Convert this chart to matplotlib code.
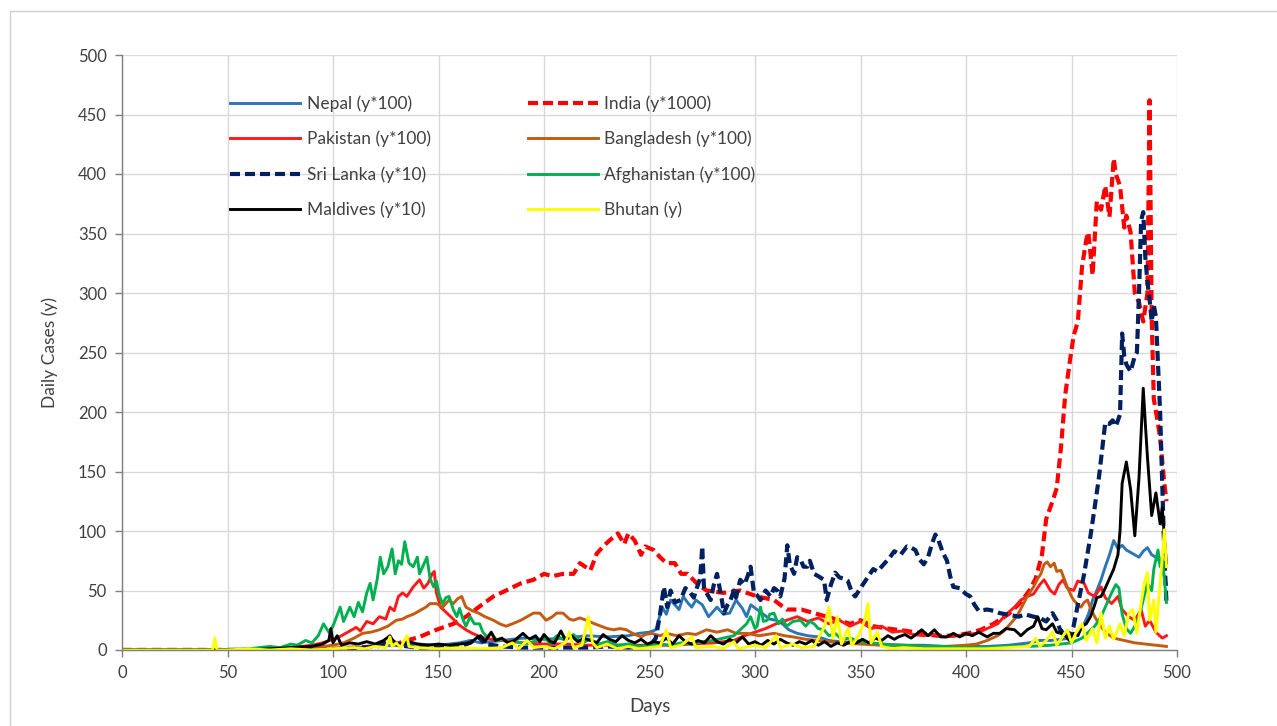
import matplotlib
matplotlib.use("Agg")
import matplotlib.pyplot as plt
from matplotlib.patches import Rectangle

# ---------------- data ----------------
nepal_days = [0, 20, 40, 60, 80, 100, 110, 120, 130, 140, 150, 160, 165, 170, 175, 180, 190, 200, 210, 220,
              230, 240, 245, 250, 253, 256, 258, 260, 262, 264, 266, 268, 270, 272, 275, 278, 280, 282, 285, 288,
              291, 294, 296, 298, 301, 304, 307, 310, 313, 316, 320, 325, 330, 335, 340, 350, 360, 370, 380, 390,
              400, 410, 420, 430, 435, 440, 445, 450, 453, 456, 458, 460, 462, 464, 466, 468, 470, 472, 474, 476,
              478, 480, 482, 484, 486, 488, 490, 492, 494, 495]
nepal = [0, 0, 0, 0, 0, 1, 2, 3, 4, 5, 4, 6, 8, 6, 7, 8, 10, 9, 10, 12,
         11, 12, 14, 15, 17, 36, 30, 42, 38, 34, 45, 40, 36, 42, 38, 28, 32, 36, 30, 31,
         42, 35, 28, 38, 34, 30, 26, 25, 22, 17, 14, 12, 11, 8, 7, 6, 5, 4, 4, 3,
         3, 3, 4, 6, 8, 8, 9, 10, 15, 22, 30, 42, 50, 59, 70, 80, 92, 85, 88, 84,
         82, 80, 78, 83, 86, 80, 78, 74, 62, 55]

india_days = [0, 50, 80, 100, 110, 120, 130, 135, 141, 149, 157, 163, 169, 176, 182, 189, 195, 200, 204, 209,
              214, 217, 222, 225, 228, 231, 235, 238, 240, 243, 246, 248, 252, 255, 258, 262, 265, 268, 273, 277,
              285, 293, 301, 309, 315, 322, 328, 334, 340, 345, 350, 356, 363, 372, 379, 386, 394, 401, 407, 413,
              420, 426, 430, 433, 436, 438, 441, 443, 445, 447, 449, 451, 453, 455, 457, 458, 460, 462, 464, 466,
              468, 470, 471, 473, 475, 476, 478, 480, 482, 484, 486, 487, 488, 489, 491, 492, 494, 495]
india = [0, 0, 0, 1, 2, 3, 5, 8, 11, 17, 22, 28, 36, 45, 50, 56, 59, 64, 62, 64,
         64, 73, 67, 81, 87, 92, 98, 89, 98, 92, 80, 87, 84, 78, 73, 73, 64, 64, 55, 50,
         48, 50, 45, 42, 34, 34, 31, 28, 25, 22, 25, 20, 18, 16, 14, 12, 12, 14, 17, 22,
         30, 40, 50, 60, 80, 110, 125, 136, 170, 214, 240, 264, 276, 322, 345, 351, 315, 377, 370, 390,
         364, 413, 400, 390, 355, 365, 351, 300, 292, 276, 300, 462, 280, 211, 190, 178, 140, 125]

pakistan_days = [0, 40, 60, 70, 80, 90, 95, 100, 103, 107, 111, 113, 116, 119, 122, 125, 127, 129, 131, 133,
                 135, 138, 141, 143, 145, 147, 148, 149, 151, 154, 157, 159, 163, 166, 170, 175, 180, 190, 200, 210,
                 220, 230, 240, 250, 260, 270, 280, 290, 295, 300, 305, 310, 315, 320, 325, 330, 335, 340, 345, 350,
                 355, 360, 365, 370, 375, 380, 385, 390, 395, 400, 405, 410, 415, 419, 423, 426, 429, 432, 435, 437,
                 440, 442, 444, 446, 448, 451, 453, 456, 458, 461, 464, 466, 469, 472, 474, 477, 480, 483, 485, 487,
                 490, 493, 495]
pakistan = [0, 0, 0, 1, 2, 4, 6, 9, 11, 15, 19, 16, 24, 22, 28, 26, 36, 33, 45, 48,
            45, 53, 59, 52, 56, 64, 66, 48, 36, 31, 26, 22, 17, 14, 11, 9, 8, 6, 5, 5,
            4, 4, 4, 4, 4, 5, 6, 8, 12, 15, 18, 22, 25, 28, 24, 27, 22, 25, 20, 24,
            18, 20, 15, 16, 13, 12, 13, 11, 12, 13, 14, 18, 22, 30, 36, 42, 45, 47, 55, 59,
            50, 47, 55, 59, 52, 50, 58, 56, 48, 45, 53, 44, 39, 45, 34, 28, 25, 34, 20, 25,
            15, 10, 12]

bangladesh_days = [0, 60, 80, 90, 100, 105, 110, 114, 118, 122, 126, 130, 133, 135, 138, 141, 144, 146, 149, 152,
                   155, 157, 159, 161, 163, 166, 169, 172, 176, 179, 182, 185, 189, 192, 195, 198, 201, 204, 206, 209,
                   212, 214, 217, 220, 224, 227, 230, 233, 236, 239, 242, 246, 248, 251, 255, 258, 263, 268, 272, 277,
                   282, 287, 291, 296, 302, 309, 314, 318, 324, 330, 340, 350, 360, 370, 380, 390, 400, 405, 410, 415,
                   418, 421, 424, 427, 429, 432, 434, 435.5, 437, 438.5, 440, 441.8, 443, 445, 446.5, 448, 450, 451, 453, 454.5,
                   456, 457.6, 459, 461, 463, 466, 470, 475, 480, 485, 490, 495]
bangladesh = [0, 0, 1, 2, 4, 6, 10, 14, 15, 17, 20, 25, 26, 28, 30, 33, 36, 39, 39, 36,
              42, 39, 43, 45, 36, 33, 31, 28, 25, 22, 20, 22, 25, 28, 31, 31, 25, 28, 31, 31,
              26, 25, 27, 25, 22, 20, 18, 17, 18, 17, 14, 11, 13, 14, 12, 14, 12, 14, 13, 17,
              15, 17, 14, 14, 12, 14, 12, 11, 9, 8, 6, 5, 4, 4, 3, 3, 4, 5, 8, 12,
              16, 22, 28, 38, 45, 53, 60, 64, 72, 74, 70, 73, 66, 67, 60, 53, 45, 42, 38, 36,
              40, 42, 35, 28, 22, 15, 10, 8, 6, 5, 4, 3]

srilanka_days = [0, 50, 100, 110, 120, 125, 128, 131, 140, 150, 160, 165, 169, 172, 180, 190, 200, 210, 220, 230,
                 240, 250, 253, 255, 256.8, 258.4, 260, 262, 264.7, 267, 269.4, 271, 272.6, 274, 275, 275.8, 277, 279, 280.5, 282,
                 284, 285.3, 287, 288.4, 290, 291, 293, 295, 296.5, 297.9, 299.5, 301, 302.6, 305, 307.4, 309, 310.5, 312, 314, 315.3,
                 316.5, 318.5, 320, 321.6, 323, 324.8, 326, 328, 330, 332.7, 334, 336, 338, 340, 342, 344, 346, 347.5, 350, 353,
                 356, 358, 361, 364, 366, 369, 372, 374, 376, 378, 380, 382, 384, 385.5, 387, 389, 391, 392.5, 394, 397,
                 400, 402, 404, 406, 410, 413, 416, 419, 422, 425, 428, 432, 435, 438, 441, 443, 445, 447, 449, 451,
                 453, 456, 459, 461, 463, 466, 468, 469.5, 471, 473, 474, 475, 476, 478, 480, 481, 482, 483, 484, 485,
                 486, 487, 488, 489, 490, 492, 494, 495]
srilanka = [0, 0, 0, 1, 3, 6, 8, 4, 2, 2, 3, 6, 11, 5, 3, 2, 2, 2, 2, 3,
            2, 3, 10, 30, 53, 36, 50, 40, 42, 52, 48, 44, 53, 60, 87, 53, 48, 42, 55, 64,
            45, 31, 38, 42, 50, 44, 59, 55, 62, 70, 48, 46, 42, 50, 45, 52, 50, 45, 60, 88,
            72, 64, 78, 76, 70, 70, 75, 64, 62, 59, 42, 55, 65, 61, 60, 58, 48, 45, 52, 60,
            68, 66, 72, 78, 83, 80, 87, 86, 84, 76, 72, 78, 90, 97, 92, 82, 75, 62, 53, 52,
            47, 45, 38, 33, 34, 33, 31, 30, 29, 28, 30, 28, 27, 24, 31, 25, 15, 18, 12, 20,
            38, 64, 96, 120, 145, 191, 190, 193, 188, 198, 266, 247, 240, 234, 247, 250, 300, 361, 368, 330,
            309, 295, 276, 290, 280, 200, 80, 40]

afghan_days = [0, 40, 60, 70, 75, 80, 83, 87, 90, 93, 95.5, 98, 100, 103.4, 105, 108, 110, 112, 114, 116,
               117.6, 119, 121, 122.4, 124, 126, 128, 129.5, 131, 132.5, 134, 136, 138, 140, 141, 143, 144.5, 146, 147.7, 149,
               150.5, 152, 153.5, 155, 157, 158.7, 160, 161.5, 163, 165, 167, 169.5, 171, 173, 175, 177.7, 180, 183, 186, 190,
               195, 200, 203, 206, 210, 214, 218, 222, 226, 230, 235, 240, 245, 250, 255, 260, 265, 270, 275, 280,
               285, 290, 293, 296, 297.9, 300, 301, 302.6, 304, 305.8, 307, 309, 311, 313, 315, 318, 321.6, 324, 326, 328,
               330, 332.7, 335, 338, 341, 345, 350, 355, 360, 365, 370, 380, 390, 400, 410, 420, 430, 440, 445, 450,
               455, 458, 461, 464, 467, 469, 471, 472.5, 474, 476, 478, 480, 482, 484, 486, 488, 489, 491, 492, 493,
               494, 495]
afghan = [0, 0, 1, 3, 2, 5, 4, 8, 6, 12, 22, 15, 20, 36, 24, 36, 28, 40, 32, 48,
          56, 42, 60, 78, 64, 70, 85, 64, 75, 72, 91, 73, 70, 78, 64, 72, 78, 60, 53, 58,
          45, 39, 44, 45, 34, 28, 35, 26, 20, 28, 22, 22, 15, 11, 14, 8, 9, 6, 8, 5,
          7, 10, 6, 12, 8, 13, 6, 9, 5, 7, 4, 5, 3, 4, 5, 4, 6, 5, 7, 8,
          10, 12, 17, 22, 28, 18, 20, 36, 24, 25, 30, 31, 22, 26, 20, 24, 25, 20, 24, 22,
          18, 17, 12, 14, 9, 10, 7, 6, 5, 4, 4, 3, 3, 2, 2, 3, 3, 4, 5, 6,
          10, 15, 20, 28, 40, 48, 55, 52, 30, 18, 14, 20, 28, 42, 56, 50, 68, 84, 70, 78,
          60, 40]

maldives_days = [0, 20, 40, 60, 70, 80, 90, 95, 98, 99, 100, 102, 104, 108, 112, 116, 120, 124, 127, 129,
                 132, 136, 140, 145, 150, 155, 160, 165, 168, 170, 172, 175, 177, 180, 183, 186, 190, 193, 196, 198,
                 200, 203, 205, 208, 210, 213, 216, 219, 222, 225, 228, 231, 234, 237, 240, 243, 246, 249, 252, 255,
                 258, 261, 264, 267, 270, 273, 276, 279, 282, 285, 288, 291, 294, 297, 300, 303, 306, 309, 312, 315,
                 318, 321, 324, 327, 330, 333, 336, 339, 342, 345, 348, 351, 354, 357, 360, 363, 366, 368, 371, 374,
                 377, 379, 382, 385, 388, 391, 394, 397, 400, 403, 406, 410, 413, 416, 419, 423, 426, 429, 432, 434,
                 436, 438, 441, 443, 445, 447, 449, 451, 453, 455, 457, 459, 461, 462, 464, 466, 468, 470, 472, 473,
                 474, 476, 478, 480, 482, 484, 485, 486, 488, 490, 492, 493, 494, 495]
maldives = [0, 0, 0, 0, 1, 2, 3, 5, 8, 18, 6, 12, 4, 6, 5, 7, 5, 8, 12, 6,
            5, 7, 5, 4, 5, 4, 5, 6, 10, 12, 7, 15, 8, 10, 6, 8, 14, 9, 12, 7,
            13, 7, 6, 16, 9, 12, 7, 10, 8, 6, 13, 9, 7, 12, 8, 6, 9, 5, 7, 6,
            10, 5, 12, 7, 5, 8, 6, 12, 7, 5, 9, 6, 11, 5, 7, 4, 8, 5, 9, 6,
            4, 7, 5, 8, 4, 7, 3, 6, 4, 7, 6, 9, 6, 10, 8, 12, 9, 11, 13, 10,
            14, 17, 12, 17, 11, 11, 14, 11, 14, 12, 15, 11, 14, 14, 18, 17, 12, 17, 20, 28,
            18, 17, 22, 15, 14, 12, 8, 14, 12, 20, 22, 28, 38, 44, 45, 52, 60, 68, 80, 100,
            140, 158, 135, 96, 145, 220, 190, 162, 113, 132, 106, 120, 95, 73]

bhutan_days = [0, 40, 43, 44, 45, 50, 60, 70, 80, 90, 100, 110, 115, 120, 125, 127, 128, 130, 132, 135,
               136, 140, 150, 160, 170, 180, 185, 188, 192, 195, 200, 205, 210, 212, 214, 218, 221, 223, 225, 230,
               235, 240, 245, 250, 255, 258, 260, 265, 270, 272, 280, 285, 290, 292, 300, 305, 310, 312, 318, 322,
               328, 333, 335, 337, 339, 341, 344, 346, 349, 352, 353.5, 355, 358, 360, 365, 370, 380, 390, 400, 410,
               420, 430, 433, 435, 438, 441, 443, 446, 448, 450, 452, 455, 457, 460, 462, 464, 466, 468, 470, 473,
               475, 477, 479, 481, 483, 484.5, 486, 487, 489, 490, 492, 494, 495]
bhutan = [0, 0, 0, 10, 0, 0, 1, 0, 1, 0, 1, 2, 1, 3, 2, 11, 3, 6, 2, 12,
          3, 2, 1, 2, 1, 2, 6, 1, 8, 2, 3, 1, 6, 15, 2, 4, 28, 6, 2, 5,
          1, 3, 1, 2, 3, 17, 2, 4, 11, 2, 3, 1, 7, 1, 4, 2, 12, 2, 5, 2,
          3, 20, 36, 10, 28, 5, 18, 4, 12, 25, 39, 6, 15, 3, 1, 2, 1, 1, 1, 1,
          2, 3, 10, 3, 8, 15, 4, 12, 17, 6, 14, 22, 8, 18, 6, 31, 10, 20, 9, 22,
          12, 30, 34, 14, 40, 56, 65, 25, 42, 15, 55, 101, 70]

x_ticks = [0, 50, 100, 150, 200, 250, 300, 350, 400, 450, 500]
y_ticks = [0, 50, 100, 150, 200, 250, 300, 350, 400, 450, 500]

# ---------------- figure ----------------
plt.rcParams['font.family'] = ['Lato', 'DejaVu Sans']
fig = plt.figure(figsize=(12.77, 7.26), dpi=100)
ax = fig.add_axes([122 / 1277, 1 - 650 / 726, (1177 - 122) / 1277, (650 - 55) / 726])

solid_lw = 2.1
dash_lw = 3.0
dash = (0, (2.4, 1.2))

h_nepal, = ax.plot(nepal_days, nepal, color='#2E75B6', lw=solid_lw, label='Nepal (y*100)')
h_india, = ax.plot(india_days, india, color='#FF0000', lw=dash_lw, linestyle=dash, label='India (y*1000)')
h_pak, = ax.plot(pakistan_days, pakistan, color='#FF1A1A', lw=solid_lw, label='Pakistan (y*100)')
h_ban, = ax.plot(bangladesh_days, bangladesh, color='#C55A11', lw=solid_lw, label='Bangladesh (y*100)')
h_sri, = ax.plot(srilanka_days, srilanka, color='#002060', lw=dash_lw, linestyle=dash, label='Sri Lanka (y*10)')
h_afg, = ax.plot(afghan_days, afghan, color='#00B050', lw=solid_lw, label='Afghanistan (y*100)')
h_mal, = ax.plot(maldives_days, maldives, color='#000000', lw=solid_lw, label='Maldives (y*10)')
h_bhu, = ax.plot(bhutan_days, bhutan, color='#FFFF00', lw=solid_lw, label='Bhutan (y)')

ax.set_xlim(0, 500)
ax.set_ylim(0, 500)
ax.set_xticks(x_ticks)
ax.set_yticks(y_ticks)
ax.grid(True, color='#D9D9D9', lw=1.0)
ax.set_axisbelow(True)
for s in ['top', 'right']:
    ax.spines[s].set_visible(False)
for s in ['left', 'bottom']:
    ax.spines[s].set_color('#7F7F7F')
    ax.spines[s].set_linewidth(1.0)
ax.tick_params(axis='both', colors='#7F7F7F', labelcolor='#404040', labelsize=12, length=5, width=1)
ax.tick_params(axis='x', pad=6)
ax.tick_params(axis='y', pad=6)

ax.set_xlabel('Days', fontsize=13.5, color='#404040', labelpad=12)
ax.set_ylabel('Daily Cases (y)', fontsize=12.5, color='#404040', labelpad=14)

handles = [h_nepal, h_pak, h_sri, h_mal, h_india, h_ban, h_afg, h_bhu]
leg = ax.legend(handles=handles, labels=[h.get_label() for h in handles], ncol=2, frameon=False,
                loc='upper left', bbox_to_anchor=(0.088, 0.958), fontsize=12.5,
                handlelength=4.0, handletextpad=0.4, labelspacing=1.08, columnspacing=5.6)
for t in leg.get_texts():
    t.set_color('#404040')

# outer frame of the source figure
fig.add_artist(Rectangle((10 / 1277, -0.05), 1.2, 1 - 11 / 726 + 0.05, transform=fig.transFigure,
                         fill=False, edgecolor='#D0D0D0', lw=1.0))

fig.savefig('out.png', dpi=100)
